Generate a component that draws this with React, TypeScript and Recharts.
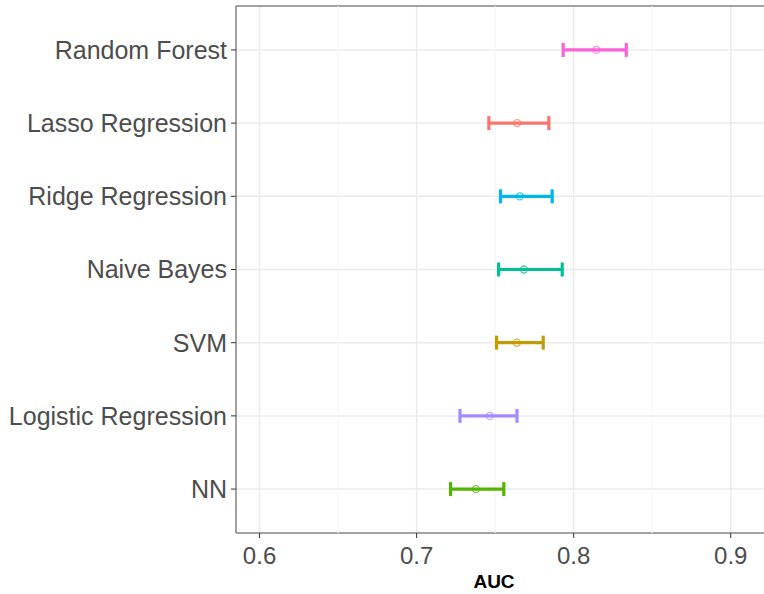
import React from "react";
import {
  ScatterChart,
  Scatter,
  XAxis,
  YAxis,
  CartesianGrid,
  ErrorBar,
  ReferenceLine,
  ReferenceArea,
} from "recharts";

// bottom to top, as on the y axis
const models = [
  "NN",
  "Logistic Regression",
  "SVM",
  "Naive Bayes",
  "Ridge Regression",
  "Lasso Regression",
  "Random Forest",
];
const aucMean = [0.7377, 0.7466, 0.7638, 0.7683, 0.7657, 0.764, 0.8144];
const aucLow = [0.7216, 0.7276, 0.7509, 0.7522, 0.7534, 0.746, 0.7933];
const aucHigh = [0.7555, 0.7639, 0.7806, 0.7927, 0.7863, 0.7842, 0.8335];
const colors = ["#53B400", "#A58AFF", "#C49A00", "#00C094", "#00B6EB", "#F8766D", "#FB61D7"];

const xTicks = [0.6, 0.7, 0.8, 0.9];
const xMinor = [0.65, 0.75, 0.85];
const yTicks = models.map((_, i) => i + 1);

const rows = models.map((name, i) => ({
  name,
  y: i + 1,
  auc: aucMean[i],
  err: [aucMean[i] - aucLow[i], aucHigh[i] - aucMean[i]],
}));

const XMIN = 0.585;
const XMAX = 0.925;

export default function App() {
  return (
    <div
      style={{
        position: "absolute",
        left: 0,
        top: 0,
        width: 764,
        height: 594,
        overflow: "hidden",
        background: "#fff",
        fontFamily: "'Liberation Sans', Arial, sans-serif",
      }}
    >
      <ScatterChart width={780} height={594} margin={{ top: 6, right: 10, bottom: 0, left: 0 }}>
        <CartesianGrid stroke="#ebebeb" strokeWidth={1.5} />
        {xMinor.map((v) => (
          <ReferenceLine key={v} x={v} stroke="#f4f4f4" strokeWidth={1} />
        ))}
        <XAxis
          type="number"
          dataKey="auc"
          domain={[XMIN, XMAX]}
          ticks={xTicks}
          allowDataOverflow
          height={61}
          axisLine={false}
          tickLine={{ stroke: "#333" }}
          tickSize={5}
          tickMargin={9}
          tick={{ fontSize: 24, fill: "#4d4d4d" }}
          label={{
            value: "AUC",
            position: "insideBottom",
            offset: 6,
            dx: -9,
            style: { fontSize: 19, fontWeight: "bold", fill: "#000" },
          }}
        />
        <YAxis
          type="number"
          dataKey="y"
          domain={[0.4, 7.6]}
          ticks={yTicks}
          allowDataOverflow
          width={236}
          axisLine={false}
          tickLine={{ stroke: "#333" }}
          tickSize={5}
          tickMargin={4}
          tick={{ fontSize: 25, fill: "#4d4d4d" }}
          tickFormatter={(v: number) => models[v - 1]}
        />
        <ReferenceArea
          x1={XMIN}
          x2={XMAX}
          y1={0.4}
          y2={7.6}
          fill="none"
          stroke="#555"
          strokeWidth={1}
        />
        {rows.map((r, i) => (
          <Scatter
            key={r.name}
            data={[r]}
            fill={colors[i]}
            isAnimationActive={false}
            shape={(p: any) => (
              <circle
                cx={p.cx}
                cy={p.cy}
                r={3.5}
                fill="none"
                stroke={colors[i]}
                strokeWidth={1.3}
                opacity={0.75}
              />
            )}
          >
            <ErrorBar
              dataKey="err"
              direction="x"
              width={7}
              stroke={colors[i]}
              strokeWidth={3.2}
              isAnimationActive={false}
            />
          </Scatter>
        ))}
      </ScatterChart>
    </div>
  );
}
